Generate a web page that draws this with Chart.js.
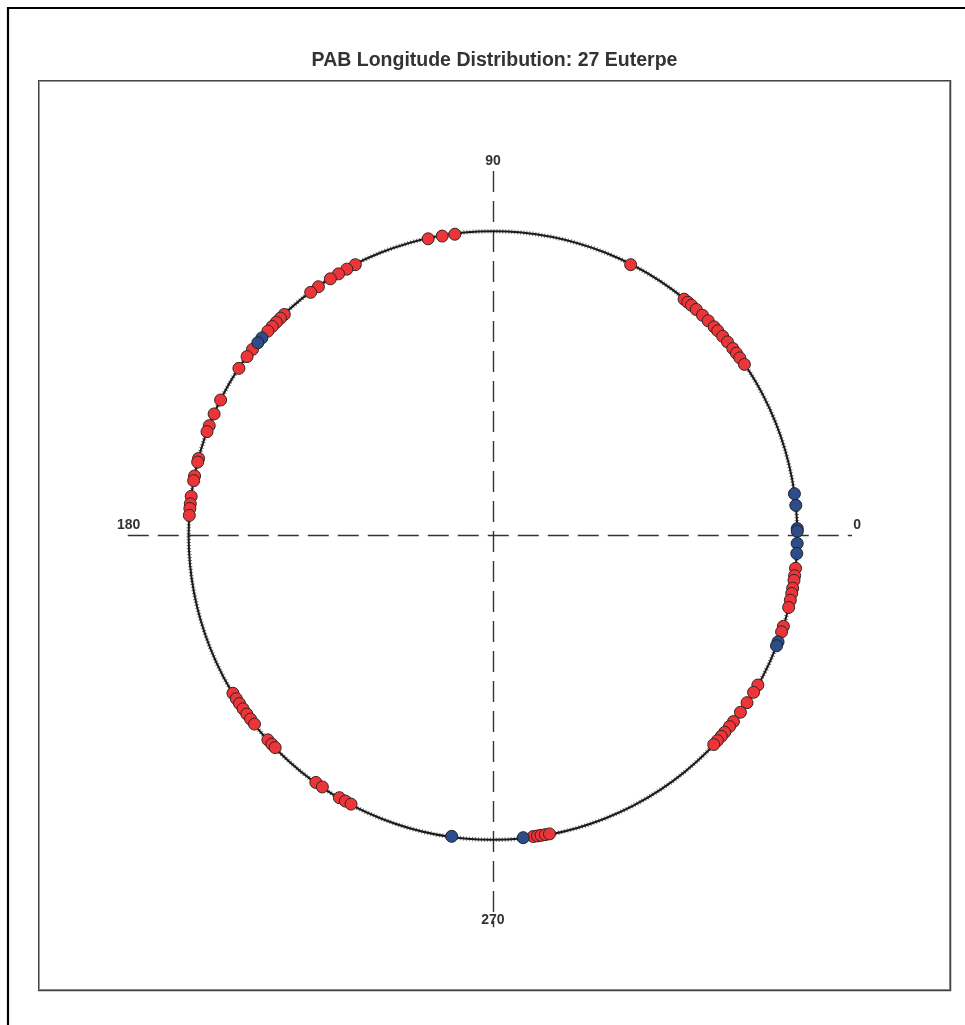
<!DOCTYPE html>
<html>
<head>
<meta charset="utf-8">
<title>PAB Longitude Distribution: 27 Euterpe</title>
<script src="https://cdn.jsdelivr.net/npm/chart.js@4/dist/chart.umd.min.js"></script>
<style>
  html, body { margin: 0; padding: 0; background: #ffffff; }
  #wrap { width: 965px; height: 1025px; }
</style>
</head>
<body>
<div id="wrap"><canvas id="chart" width="965" height="1025"></canvas></div>
<script>
// Phase angle bisector longitudes (degrees), split by observation set
const redLongitudes = [
  102.3, 99.6, 97.2,
  63.1,
  51.1, 50.2, 49.3, 48.1, 46.5, 45.0, 43.4, 42.4, 41.0, 39.6, 38.0, 36.9, 35.8, 34.3,
  353.8, 352.4, 351.5, 350.0, 349.0, 347.7, 346.3, 342.6, 341.5,
  330.5, 328.9, 326.6, 324.4, 322.2, 321.0, 319.6, 318.6, 317.5, 316.5,
  277.6, 278.4, 279.1, 279.9, 280.7,
  211.3, 212.5, 213.6, 214.8, 216.0, 217.2, 218.4,
  222.3, 223.4, 224.3,
  234.4, 235.9, 239.7, 241.0, 242.2,
  116.9, 118.7, 120.5, 122.3, 125.0, 126.8,
  133.3, 134.3, 135.4, 136.5, 137.7,
  142.2, 143.9, 146.6, 153.5, 156.4, 158.8, 160.0,
  165.3, 166.0, 168.7, 169.6, 172.6, 174.0, 174.9, 176.2
];
const blueLongitudes = [
  7.9, 5.7, 1.3, 0.8, 358.5, 356.6,
  339.5, 338.7,
  262.2, 275.7,
  139.4, 140.6
];
const axisLabels = ['0', '90', '180', '270'];
const chartTitle = 'PAB Longitude Distribution: 27 Euterpe';

// place each longitude on the unit circle
const toPoints = lons => lons.map(l => {
  const r = l * Math.PI / 180;
  return { x: Math.cos(r), y: Math.sin(r), lon: l };
});

const polarFrame = {
  id: 'polarFrame',
  beforeDraw(chart) {
    const ctx = chart.ctx;
    ctx.save();
    ctx.fillStyle = '#ffffff';
    ctx.fillRect(0, 0, chart.width, chart.height);
    // outer page frame (top and left)
    ctx.strokeStyle = '#000000';
    ctx.lineWidth = 2.2;
    ctx.beginPath();
    ctx.moveTo(8, chart.height);
    ctx.lineTo(8, 8);
    ctx.lineTo(chart.width, 8);
    ctx.stroke();
    ctx.restore();
  },
  beforeDatasetsDraw(chart) {
    const ctx = chart.ctx;
    const a = chart.chartArea;
    const xs = chart.scales.x, ys = chart.scales.y;
    ctx.save();

    // plot box
    ctx.strokeStyle = '#9a9a9a';
    ctx.lineWidth = 1;
    ctx.strokeRect(a.left + 1.5, a.top + 1.5, a.right - a.left - 3, a.bottom - a.top - 3);
    ctx.strokeStyle = '#444444';
    ctx.strokeRect(a.left + 0.5, a.top + 0.5, a.right - a.left - 1, a.bottom - a.top - 1);
    ctx.lineWidth = 1.5;
    ctx.beginPath();
    ctx.moveTo(a.left, a.bottom - 0.5);
    ctx.lineTo(a.right - 0.5, a.bottom - 0.5);
    ctx.lineTo(a.right - 0.5, a.top);
    ctx.stroke();

    const cx = xs.getPixelForValue(0), cy = ys.getPixelForValue(0);

    // dashed reference axes
    ctx.strokeStyle = '#333333';
    ctx.lineWidth = 1.4;
    ctx.setLineDash([21, 9]);
    ctx.beginPath();
    ctx.moveTo(xs.getPixelForValue(-1.2), Math.round(cy) - 0.5);
    ctx.lineTo(xs.getPixelForValue(1.18), Math.round(cy) - 0.5);
    ctx.stroke();
    ctx.beginPath();
    ctx.moveTo(Math.round(cx) + 0.5, ys.getPixelForValue(1.2));
    ctx.lineTo(Math.round(cx) + 0.5, ys.getPixelForValue(-1.29));
    ctx.stroke();
    ctx.setLineDash([]);

    // unit circle
    const rad = xs.getPixelForValue(1) - cx;
    ctx.strokeStyle = '#1a1a1a';
    ctx.lineWidth = 2;
    ctx.beginPath();
    ctx.arc(cx, cy, rad, 0, Math.PI * 2);
    ctx.stroke();
    ctx.strokeStyle = 'rgba(30,30,30,0.6)';
    ctx.lineWidth = 4.5;
    ctx.setLineDash([1, 2]);
    ctx.beginPath();
    ctx.arc(cx, cy, rad, 0, Math.PI * 2);
    ctx.stroke();
    ctx.setLineDash([]);

    // direction labels
    ctx.fillStyle = '#333333';
    ctx.font = 'bold 14px "Liberation Sans", Arial, sans-serif';
    ctx.textAlign = 'center';
    ctx.textBaseline = 'middle';
    ctx.fillText(axisLabels[0], xs.getPixelForValue(1.197), cy - 10);
    ctx.fillText(axisLabels[1], cx, ys.getPixelForValue(1.2) - 10);
    ctx.fillText(axisLabels[2], xs.getPixelForValue(-1.197), cy - 10);
    ctx.fillText(axisLabels[3], cx, ys.getPixelForValue(-1.2) + 20);
    ctx.restore();
  }
};

new Chart(document.getElementById('chart'), {
  type: 'scatter',
  data: {
    datasets: [
      {
        label: 'blue',
        data: toPoints(blueLongitudes),
        backgroundColor: '#2c4d8a',
        borderColor: '#222222',
        borderWidth: 1,
        pointRadius: 6,
        pointHoverRadius: 6
      },
      {
        label: 'red',
        data: toPoints(redLongitudes),
        backgroundColor: '#ec3539',
        borderColor: '#3a2222',
        borderWidth: 1,
        pointRadius: 6,
        pointHoverRadius: 6
      }
    ]
  },
  options: {
    responsive: false,
    devicePixelRatio: 1,
    animation: false,
    layout: { padding: { left: 38, right: 14, top: 49.3, bottom: 34 } },
    scales: {
      x: { type: 'linear', min: -1.495, max: 1.505, display: false },
      y: { type: 'linear', min: -1.5, max: 1.5, display: false }
    },
    plugins: {
      legend: { display: false },
      tooltip: { enabled: false },
      title: {
        display: true,
        text: chartTitle,
        color: '#333333',
        font: { family: '"Liberation Sans", Arial, sans-serif', size: 19.5, weight: 'bold', lineHeight: 1.2 },
        padding: { top: 0, bottom: 7.3 }
      }
    }
  },
  plugins: [polarFrame]
});
</script>
</body>
</html>
